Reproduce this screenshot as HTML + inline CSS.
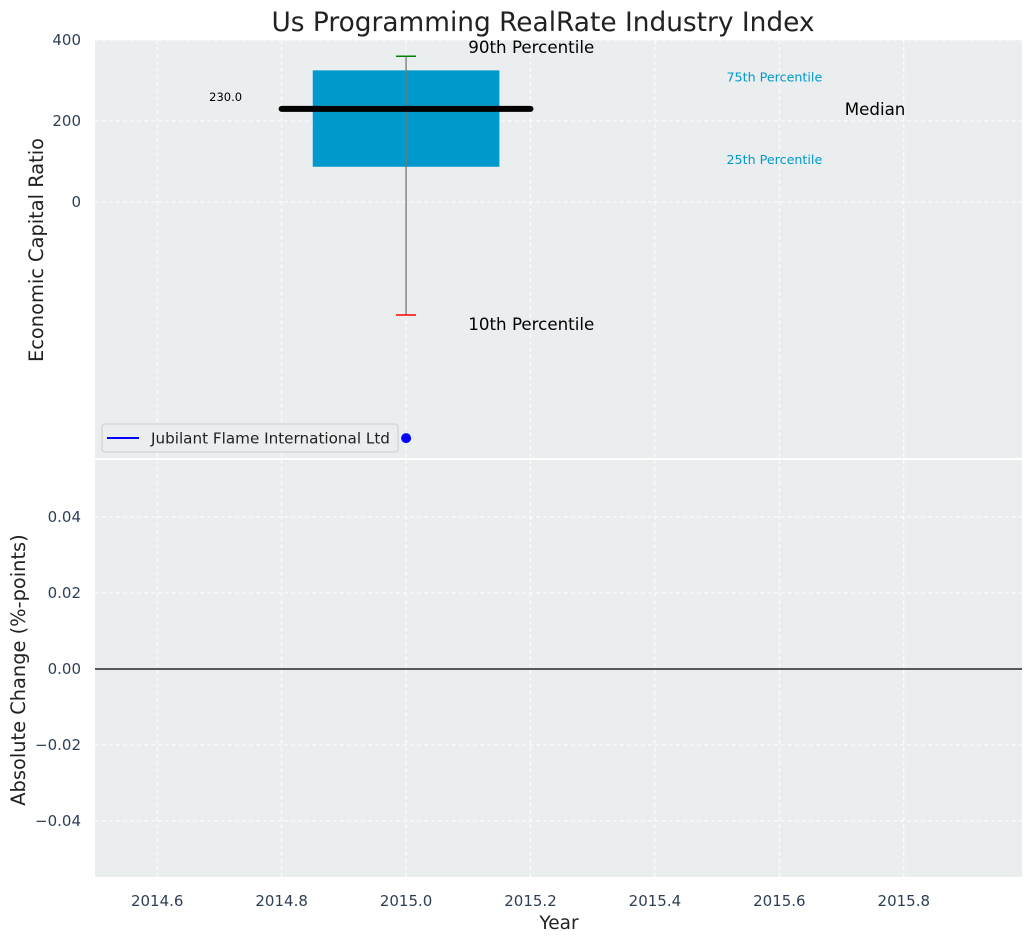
<!DOCTYPE html>
<html><head><meta charset="utf-8"><style>
body{margin:0;background:#fff;font-family:"Liberation Sans","DejaVu Sans",sans-serif}
svg text{font-family:"DejaVu Sans","Liberation Sans",sans-serif}
</style></head><body>
<svg id="c" width="1034" height="942" xmlns="http://www.w3.org/2000/svg"></svg>
<script>
const xTicks=[2014.6,2014.8,2015.0,2015.2,2015.4,2015.6,2015.8];
const topTicks=[0,200,400];
const botTicks=[-0.04,-0.02,0,0.02,0.04];
const year=[2015.0];
const p10=[-279];
const p25=[87];
const median=[230];
const p75=[325];
const p90=[360];
const companyValue=[-583];
const change=[0];

const NS="http://www.w3.org/2000/svg";
const svg=document.getElementById('c');
function el(t,a,txt){const e=document.createElementNS(NS,t);for(const k in a)e.setAttribute(k,a[k]);if(txt!==undefined)e.textContent=txt;svg.appendChild(e);return e;}
const X0=95,X1=1022;
const x=v=>X0+(v-2014.5)/(2015.99-2014.5)*(X1-X0);
const yT=v=>202-v*81/200;
const yB=v=>669-v*3800;

el('text',{x:543,y:31,'font-size':26.4,fill:'#222','text-anchor':'middle'},'Us Programming RealRate Industry Index');
let r=el('rect',{x:X0,y:40,width:X1-X0,height:418,fill:'#eaeeef'});

r=el('rect',{x:X0,y:460,width:X1-X0,height:417,fill:'#eaeeef'});

xTicks.forEach(v=>{
 let g=el('line',{x1:x(v),x2:x(v),y1:40,y2:458,stroke:'#fff','stroke-dasharray':'4,3','stroke-width':1});
 
 g=el('line',{x1:x(v),x2:x(v),y1:460,y2:877,stroke:'#fff','stroke-dasharray':'4,3','stroke-width':1});
 
 let t=el('text',{x:x(v),y:906,'font-size':15,fill:'#2e3f55','text-anchor':'middle'},v.toFixed(1));
 
});
topTicks.forEach(v=>{
 let g=el('line',{x1:X0,x2:X1,y1:yT(v),y2:yT(v),stroke:'#fff','stroke-dasharray':'4,3'});
 
 let t=el('text',{x:81,y:yT(v)+5,'font-size':15,fill:'#2e3f55','text-anchor':'end'},String(v));
 
});
botTicks.forEach(v=>{
 let g=el('line',{x1:X0,x2:X1,y1:yB(v),y2:yB(v),stroke:'#fff','stroke-dasharray':'4,3'});
 
 let t=el('text',{x:81,y:yB(v)+5,'font-size':15,fill:'#2e3f55','text-anchor':'end'},(v<0?'\u2212':'')+Math.abs(v).toFixed(2));
 
});
let t=el('text',{x:0,y:0,'font-size':19.4,fill:'#222','text-anchor':'middle',transform:'translate(43,250) rotate(-90)'},'Economic Capital Ratio');

t=el('text',{x:0,y:0,'font-size':19.4,fill:'#222','text-anchor':'middle',transform:'translate(25,670) rotate(-90)'},'Absolute Change (%-points)');

t=el('text',{x:559,y:929,'font-size':18.5,fill:'#222','text-anchor':'middle'},'Year');


year.forEach((yr,i)=>{
 let b=el('rect',{x:x(yr-0.15),y:yT(p75[i]),width:x(yr+0.15)-x(yr-0.15),height:yT(p25[i])-yT(p75[i]),fill:'#0099cc'});
 
 let w=el('line',{x1:x(yr),x2:x(yr),y1:yT(p90[i]),y2:yT(p10[i]),stroke:'#777','stroke-width':1.3});
 
 w=el('line',{x1:x(yr)-10,x2:x(yr)+10,y1:yT(p90[i]),y2:yT(p90[i]),stroke:'green','stroke-width':1.5});
 
 w=el('line',{x1:x(yr)-10,x2:x(yr)+10,y1:yT(p10[i]),y2:yT(p10[i]),stroke:'red','stroke-width':1.5});
 
 w=el('line',{x1:x(yr-0.2),x2:x(yr+0.2),y1:yT(median[i]),y2:yT(median[i]),stroke:'#000','stroke-width':6,'stroke-linecap':'round'});
 
 let tt=el('text',{x:x(yr-0.29),y:yT(median[i])-8,'font-size':11.5,fill:'#000','text-anchor':'middle'},median[i].toFixed(1));
 
 tt=el('text',{x:x(yr+0.1),y:yT(p90[i])-3,'font-size':16.7,fill:'#000'},'90th Percentile');
 
 tt=el('text',{x:x(yr+0.1),y:yT(p10[i])+15,'font-size':16.7,fill:'#000'},'10th Percentile');
 
 tt=el('text',{x:x(yr+0.515),y:yT(p75[i])+11,'font-size':12.7,fill:'#0099cc'},'75th Percentile');
 
 tt=el('text',{x:x(yr+0.515),y:yT(p25[i])-3,'font-size':12.7,fill:'#0099cc'},'25th Percentile');
 
 tt=el('text',{x:x(yr+0.705),y:yT(median[i])+6,'font-size':16.7,fill:'#000'},'Median');
 
 let d=el('circle',{cx:x(yr),cy:yT(companyValue[i]),r:5,fill:'blue'});
 
});
let z=el('line',{x1:X0,x2:X1,y1:yB(change[0]),y2:yB(change[0]),stroke:'#000','stroke-width':1.2});


let lg=el('rect',{x:102,y:424,width:296,height:28,rx:3,fill:'#eaeeef',stroke:'#ccc'});

let ll=el('line',{x1:107,x2:139,y1:438,y2:438,stroke:'blue','stroke-width':2});

t=el('text',{x:151,y:443.5,'font-size':15.2,fill:'#222'},'Jubilant Flame International Ltd');

</script>
</body></html>
